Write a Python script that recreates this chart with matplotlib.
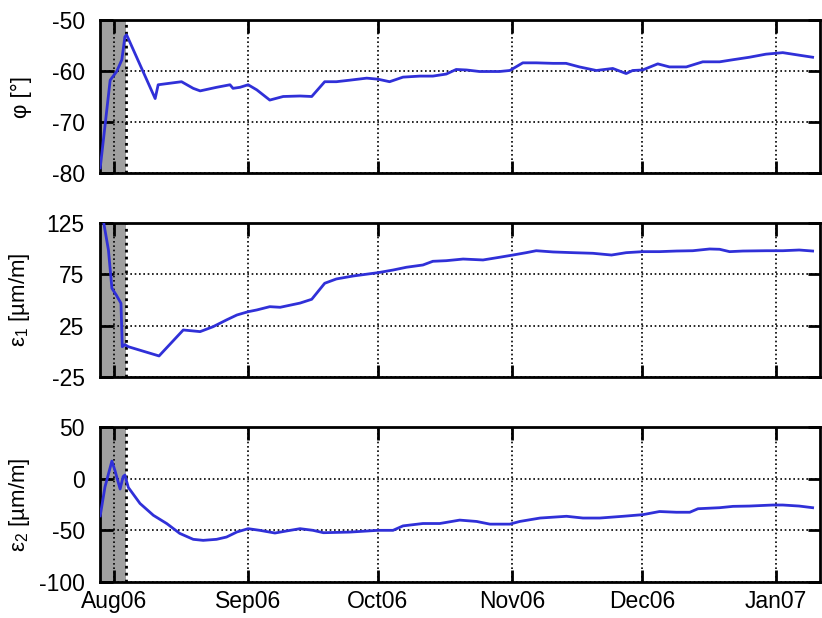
import datetime as dt
import matplotlib
matplotlib.use("Agg")
import matplotlib.pyplot as plt
import matplotlib.dates as mdates
import numpy as np

# ---------------- data (days since 2006-08-01) ----------------
phi_day = [-3.2, -0.9, 0.6, 1.8, 2.5, 2.9, 9.5, 10.2, 15.6, 18.3, 19.9, 23.7, 26.8, 27.5,
           29.1, 31.0, 33.0, 36.0, 39.1, 43.0, 45.7, 48.7, 51.4, 54.5, 58.4, 61.0, 63.7,
           66.8, 70.7, 73.7, 76.8, 79.1, 81.5, 84.5, 89.1, 91.5, 94.5, 97.6, 101.5, 104.5,
           107.6, 111.5, 115.3, 118.4, 119.9, 122.2, 125.7, 128.4, 132.3, 136.1, 140.0,
           143.0, 146.9, 150.7, 154.6, 158.4, 161.5]
phi_val = [-79.0, -61.8, -60.1, -57.8, -53.3, -52.9, -65.4, -62.7, -62.1, -63.4, -63.9, -63.2,
           -62.7, -63.4, -63.2, -62.7, -63.7, -65.7, -65.0, -64.9, -65.0, -62.1, -62.1, -61.8,
           -61.4, -61.6, -62.1, -61.2, -61.0, -61.0, -60.6, -59.7, -59.8, -60.1, -60.1, -59.9,
           -58.4, -58.4, -58.5, -58.5, -59.2, -59.9, -59.5, -60.5, -59.9, -59.8, -58.6, -59.2,
           -59.2, -58.2, -58.2, -57.8, -57.3, -56.7, -56.4, -56.9, -57.3]

e1_day = [-3.2, -2.3, -1.3, -0.5, 0.5, 1.6, 1.9, 2.5, 3.3, 10.4, 16.0, 19.9, 22.9, 26.0,
          28.4, 31.0, 33.0, 36.0, 38.4, 43.0, 45.7, 48.7, 51.4, 55.3, 61.0, 64.5, 67.6,
          71.4, 73.7, 76.8, 80.7, 85.3, 89.1, 92.2, 95.3, 97.6, 101.5, 106.1, 110.7, 115.0,
          118.4, 122.3, 126.1, 130.0, 133.8, 137.7, 140.0, 142.3, 145.4, 150.8, 154.6,
          158.4, 161.5]
e1_val = [146, 123, 98.7, 61.4, 54.9, 46.8, 4.5, 6.5, 4.5, -4.5, 20.8, 19.2, 24.0, 30.6,
          35.4, 38.6, 40.3, 43.5, 42.9, 47.0, 50.7, 66.3, 70.5, 73.4, 76.6, 79.2, 81.9,
          84.1, 87.7, 88.3, 89.9, 89.0, 91.6, 93.8, 96.1, 98.0, 96.8, 96.1, 95.5, 93.8,
          96.1, 97.1, 97.1, 97.7, 98.0, 99.7, 99.4, 97.1, 97.7, 98.0, 98.0, 98.7, 97.7]

e2_day = [-3.2, -2.1, -0.5, 0.2, 1.4, 2.1, 2.5, 3.3, 6.0, 9.1, 12.2, 15.2, 18.3, 20.6,
          23.7, 26.0, 28.4, 31.0, 33.7, 37.2, 39.9, 43.0, 46.0, 48.4, 54.5, 61.0, 64.5,
          66.8, 71.4, 75.3, 79.9, 83.8, 86.9, 91.5, 93.8, 98.5, 104.6, 108.4, 112.3, 117.7,
          122.3, 126.1, 130.0, 133.1, 135.0, 140.0, 143.1, 146.9, 152.3, 154.6, 158.4, 161.5]
e2_val = [-36, -8, 17, 8, -10, 2, 3.5, -8.5, -24, -35.5, -43.5, -53, -58.7, -59.7,
          -58.7, -56.5, -51.6, -48.4, -50, -52.6, -50.6, -48.4, -50, -52.3, -51.7, -50, -50,
          -45.7, -43.4, -43.4, -40.1, -41.4, -44.0, -44.0, -41.4, -38.1, -36.4, -38.1, -38.1,
          -36.4, -34.8, -31.8, -32.5, -32.5, -29.1, -28.1, -26.8, -26.5, -25.5, -25.5, -26.5,
          -28.1]

ylabels = [r"φ [°]", r"ε$_1$ [µm/m]", r"ε$_2$ [µm/m]"]
yticks = [[-80, -70, -60, -50], [-25, 25, 75, 125], [-100, -50, 0, 50]]
month_ticks = ["2006-08-01", "2006-09-01", "2006-10-01", "2006-11-01", "2006-12-01", "2007-01-01"]
xlim_dates = ["2006-07-28 18:00", "2007-01-11 05:00"]
shade_end = "2006-08-03 18:00"

# ---------------- plotting ----------------
plt.rcParams['font.family'] = ['Liberation Sans', 'DejaVu Sans']
plt.rcParams['mathtext.fontset'] = 'custom'
plt.rcParams['mathtext.rm'] = 'Liberation Sans'
plt.rcParams['mathtext.it'] = 'Liberation Sans'
plt.rcParams['axes.unicode_minus'] = False

base = mdates.date2num(dt.datetime(2006, 8, 1))
def todate(days):
    return base + np.asarray(days, dtype=float)

def parse(s):
    fmt = "%Y-%m-%d %H:%M" if ":" in s else "%Y-%m-%d"
    return mdates.date2num(dt.datetime.strptime(s, fmt))

fig = plt.figure(figsize=(8.22, 6.18), dpi=100)
L, W = 100 / 822, 720 / 822
rows = [(445 / 618, 153 / 618), (241 / 618, 154 / 618), (36 / 618, 155 / 618)]
series = [(phi_day, phi_val), (e1_day, e1_val), (e2_day, e2_val)]
line_color = '#3030d8'

xt = [parse(s) for s in month_ticks]
for i, ((b, h), (d, v)) in enumerate(zip(rows, series)):
    ax = fig.add_axes([L, b, W, h])
    ax.axvspan(parse(xlim_dates[0]) - 5, parse(shade_end), color='#a0a0a0', zorder=0, lw=0)
    ax.axvline(parse(shade_end), color='black', ls=(0, (1.0, 1.5)), lw=2.0, zorder=1)
    ax.plot(todate(d), v, color=line_color, lw=2.0, zorder=3)
    ax.set_xlim(parse(xlim_dates[0]), parse(xlim_dates[1]))
    ax.set_ylim(yticks[i][0], yticks[i][-1])
    ax.set_yticks(yticks[i])
    ax.set_xticks(xt)
    ax.xaxis.set_major_formatter(mdates.DateFormatter('%b%y'))
    ax.grid(True, color='black', ls=(0, (1, 1.6)), lw=1.2, zorder=1)
    ax.tick_params(direction='in', length=9, width=2.0, top=True, right=True,
                   labelsize=16.5, pad=11)
    ax.tick_params(axis='x', pad=6)
    if i < 2:
        ax.tick_params(labelbottom=False)
    for s in ax.spines.values():
        s.set_linewidth(2.0)
    ax.set_ylabel(ylabels[i], fontsize=16)
    ax.yaxis.set_label_coords(-68 / 720, 0.5)

fig.savefig("out.png", dpi=100)
